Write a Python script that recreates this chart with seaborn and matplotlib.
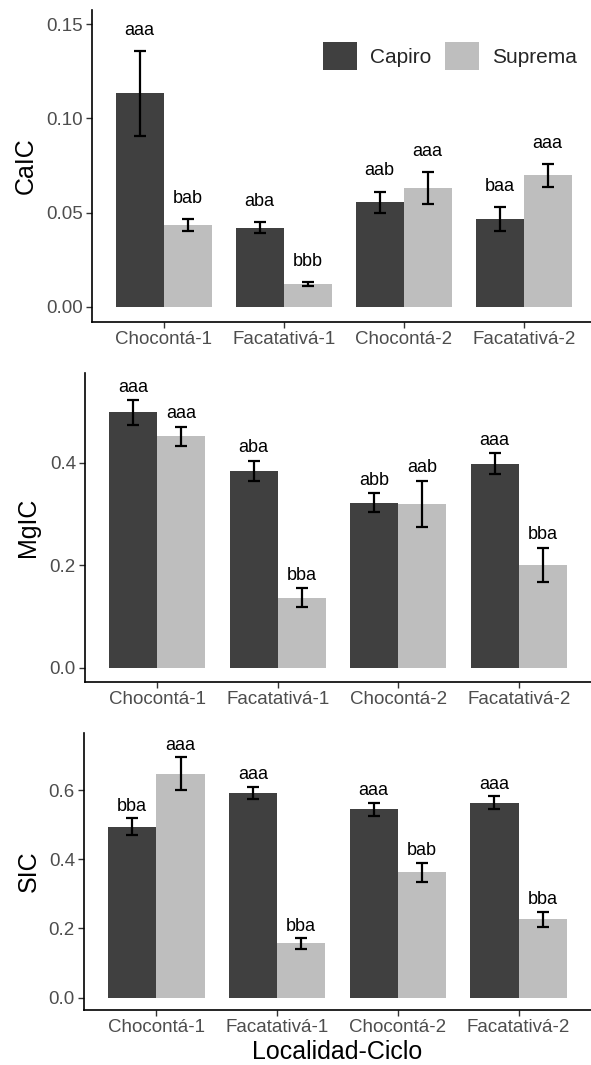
import numpy as np
import pandas as pd
import matplotlib
matplotlib.use("Agg")
import matplotlib.pyplot as plt
from matplotlib.patches import Patch
import seaborn as sns

# datos
localidades = ["Chocontá-1", "Facatativá-1", "Chocontá-2", "Facatativá-2"]
variedades = ["Capiro", "Suprema"]

cal_capiro = [0.1133, 0.0421, 0.0555, 0.0466]
cal_suprema = [0.0435, 0.0120, 0.0630, 0.0698]
cal_se_capiro = [0.0225, 0.0031, 0.0057, 0.0063]
cal_se_suprema = [0.0030, 0.0010, 0.0085, 0.0060]
cal_let_capiro = ["aaa", "aba", "aab", "baa"]
cal_let_suprema = ["bab", "bbb", "aaa", "aaa"]

mg_capiro = [0.498, 0.384, 0.322, 0.398]
mg_suprema = [0.451, 0.137, 0.320, 0.201]
mg_se_capiro = [0.024, 0.020, 0.018, 0.021]
mg_se_suprema = [0.019, 0.018, 0.045, 0.033]
mg_let_capiro = ["aaa", "aba", "abb", "aaa"]
mg_let_suprema = ["aaa", "bba", "aab", "bba"]

s_capiro = [0.494, 0.592, 0.544, 0.563]
s_suprema = [0.647, 0.157, 0.362, 0.226]
s_se_capiro = [0.024, 0.018, 0.020, 0.019]
s_se_suprema = [0.048, 0.015, 0.027, 0.022]
s_let_capiro = ["bba", "aaa", "aaa", "aaa"]
s_let_suprema = ["aaa", "bba", "bab", "bba"]

colores = {"Capiro": "#404040", "Suprema": "#BEBEBE"}


def armar_tabla(cap, sup, se_cap, se_sup, let_cap, let_sup):
    filas = []
    for i, loc in enumerate(localidades):
        filas.append([loc, "Capiro", cap[i], se_cap[i], let_cap[i]])
        filas.append([loc, "Suprema", sup[i], se_sup[i], let_sup[i]])
    return pd.DataFrame(filas, columns=["loc", "var", "media", "se", "letra"])


paneles = [
    dict(df=armar_tabla(cal_capiro, cal_suprema, cal_se_capiro, cal_se_suprema,
                        cal_let_capiro, cal_let_suprema),
         ylab="CaIC", ylim=(-0.0078, 0.1575), ticks=[0, 0.05, 0.10, 0.15], fmt="{:.2f}",
         off=0.011, px=(91.7, 10, 504, 311.7), labx=38),
    dict(df=armar_tabla(mg_capiro, mg_suprema, mg_se_capiro, mg_se_suprema,
                        mg_let_capiro, mg_let_suprema),
         ylab="MgIC", ylim=(-0.027, 0.574), ticks=[0, 0.2, 0.4], fmt="{:.1f}",
         off=0.025, px=(85, 373.3, 506, 308.4), labx=40),
    dict(df=armar_tabla(s_capiro, s_suprema, s_se_capiro, s_se_suprema,
                        s_let_capiro, s_let_suprema),
         ylab="SIC", ylim=(-0.0356, 0.764), ticks=[0, 0.2, 0.4, 0.6], fmt="{:.1f}",
         off=0.035, px=(84, 733.3, 507, 276.7), labx=41),
]

sns.set_style("ticks")
plt.rcParams["font.family"] = ["Liberation Sans", "DejaVu Sans"]

W, H = 591, 1065
fig = plt.figure(figsize=(W / 100, H / 100), dpi=100)

for k, p in enumerate(paneles):
    x0, y0, w, h = p["px"]
    ax = fig.add_axes([x0 / W, 1 - (y0 + h) / H, w / W, h / H])
    df = p["df"]
    sns.barplot(data=df, x="loc", y="media", hue="var", order=localidades,
                hue_order=variedades, palette=colores, errorbar=None,
                width=0.8, legend=False, ax=ax, linewidth=0, saturation=1)

    for cont, var in zip(ax.containers, variedades):
        sub = df[df["var"] == var].set_index("loc").loc[localidades]
        xs = [b.get_x() + b.get_width() / 2 for b in cont]
        ax.errorbar(xs, sub["media"], yerr=sub["se"], fmt="none", ecolor="black",
                    elinewidth=1.6, capsize=4.2, capthick=1.6, zorder=3)
        for x, m, s, t in zip(xs, sub["media"], sub["se"], sub["letra"]):
            ax.text(x, m + s + p["off"], t, ha="center", va="center",
                    fontsize=13, color="black")

    ax.set_xlim(-0.6, 3.6)
    ax.set_ylim(*p["ylim"])
    ax.set_yticks(p["ticks"])
    ax.set_yticklabels([p["fmt"].format(t) for t in p["ticks"]])
    ax.tick_params(axis="both", labelsize=13.5, labelcolor="#4D4D4D",
                   color="#333333", length=4.5, width=1, pad=2)
    for lado in ["top", "right"]:
        ax.spines[lado].set_visible(False)
    for lado in ["left", "bottom"]:
        ax.spines[lado].set_linewidth(1.2)
        ax.spines[lado].set_color("black")

    ax.set_ylabel(p["ylab"], fontsize=18, color="black")
    ax.yaxis.set_label_coords((p["labx"] - x0) / w, 0.5)
    if k == 2:
        ax.set_xlabel("Localidad-Ciclo", fontsize=18, color="black", labelpad=3)
    else:
        ax.set_xlabel("")

    if k == 0:
        handles = [Patch(facecolor=colores[v], edgecolor="none", label=v) for v in variedades]
        ax.legend(handles=handles, loc="center", ncol=2, frameon=False,
                  bbox_to_anchor=(450 / W, 1 - 56 / H), bbox_transform=fig.transFigure,
                  fontsize=15, handlelength=1.63, handleheight=1.63,
                  handletextpad=0.63, columnspacing=0.67, borderpad=0)

fig.savefig("out.png", dpi=100)
